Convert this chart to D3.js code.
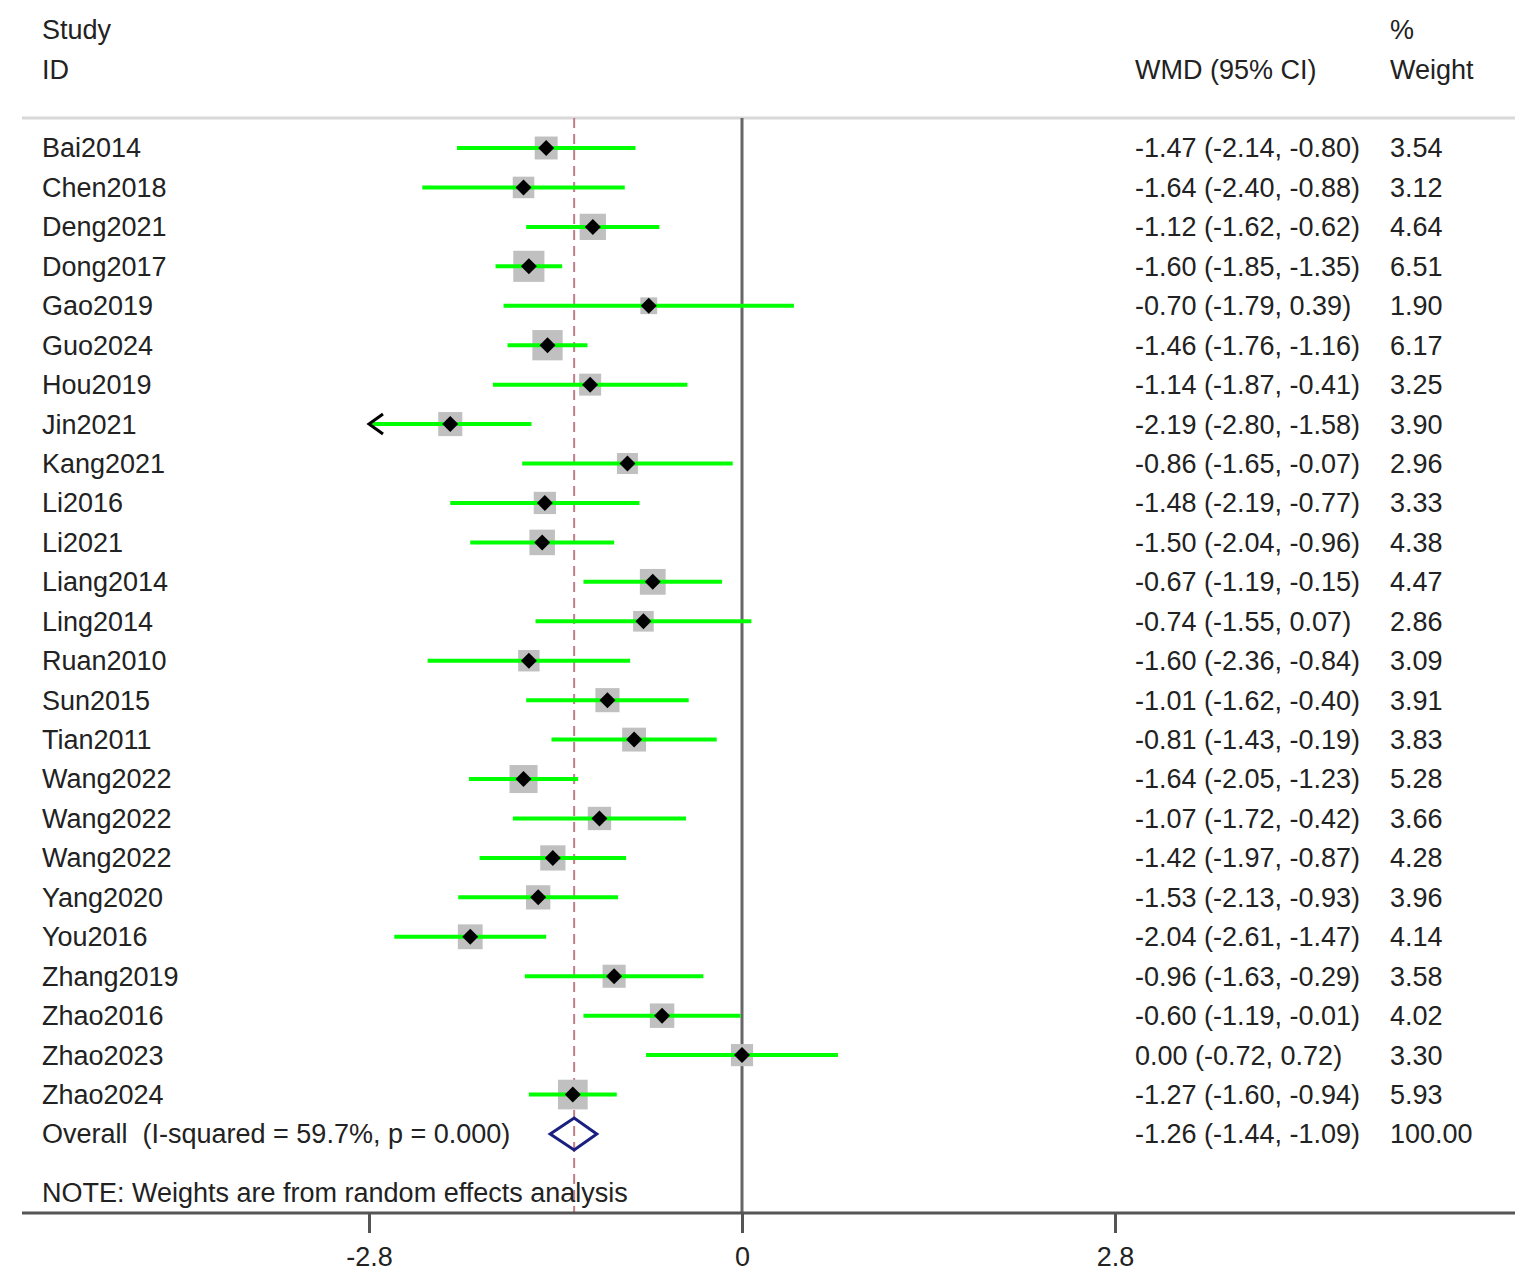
<!DOCTYPE html>
<meta charset="utf-8">
<title>Forest plot</title>
<script src="https://d3js.org/d3.v7.min.js"></script>
<style>
  body { margin: 0; background: #fff; }
  text { font-family: "Liberation Sans", Arial, sans-serif; fill: #222; }
</style>
<body>
<script>

// study data
const studies = ["Bai2014", "Chen2018", "Deng2021", "Dong2017", "Gao2019", "Guo2024", "Hou2019",
  "Jin2021", "Kang2021", "Li2016", "Li2021", "Liang2014", "Ling2014", "Ruan2010", "Sun2015",
  "Tian2011", "Wang2022", "Wang2022", "Wang2022", "Yang2020", "You2016", "Zhang2019",
  "Zhao2016", "Zhao2023", "Zhao2024"];
const wmd   = [-1.47, -1.64, -1.12, -1.60, -0.70, -1.46, -1.14, -2.19, -0.86, -1.48, -1.50, -0.67, -0.74,
  -1.60, -1.01, -0.81, -1.64, -1.07, -1.42, -1.53, -2.04, -0.96, -0.60, 0.00, -1.27];
const lower = [-2.14, -2.40, -1.62, -1.85, -1.79, -1.76, -1.87, -2.80, -1.65, -2.19, -2.04, -1.19, -1.55,
  -2.36, -1.62, -1.43, -2.05, -1.72, -1.97, -2.13, -2.61, -1.63, -1.19, -0.72, -1.60];
const upper = [-0.80, -0.88, -0.62, -1.35, 0.39, -1.16, -0.41, -1.58, -0.07, -0.77, -0.96, -0.15, 0.07,
  -0.84, -0.40, -0.19, -1.23, -0.42, -0.87, -0.93, -1.47, -0.29, -0.01, 0.72, -0.94];
const weight = [3.54, 3.12, 4.64, 6.51, 1.90, 6.17, 3.25, 3.90, 2.96, 3.33, 4.38, 4.47, 2.86,
  3.09, 3.91, 3.83, 5.28, 3.66, 4.28, 3.96, 4.14, 3.58, 4.02, 3.30, 5.93];

const overall = { label: "Overall  (I-squared = 59.7%, p = 0.000)", est: -1.26, lo: -1.44, hi: -1.09, w: 100 };

const tickValues = [-2.8, 0, 2.8];
const tickLabels = ["-2.8", "0", "2.8"];

const width = 1535, height = 1283;
const left = 22, right = 1515;
const topLine = 118, axisY = 1213;
const labelX = 42, ciX = 1135, wX = 1390;

const svg = d3.select("body").append("svg")
  .attr("width", width)
  .attr("height", height);

const x = d3.scaleLinear().domain([-2.8, 2.8]).range([369, 1115]);
const y = d3.scaleLinear().domain([0, studies.length]).range([148, 1134]);

const rows = studies.map((s, i) => ({ s, i, est: wmd[i], lo: lower[i], hi: upper[i], w: weight[i] }));
// plain hyphen minus, like the original
const fmt = v => v.toFixed(2);

// headers
svg.append("text").attr("x", labelX).attr("y", 30).attr("dy", "0.35em").attr("font-size", 27).text("Study");
svg.append("text").attr("x", labelX).attr("y", 70).attr("dy", "0.35em").attr("font-size", 27).text("ID");
svg.append("text").attr("x", ciX).attr("y", 70).attr("dy", "0.35em").attr("font-size", 27).text("WMD (95% CI)");
svg.append("text").attr("x", wX).attr("y", 30).attr("dy", "0.35em").attr("font-size", 27).text("%");
svg.append("text").attr("x", wX).attr("y", 70).attr("dy", "0.35em").attr("font-size", 27).text("Weight");

// top rule
svg.append("line")
  .attr("x1", left).attr("x2", right)
  .attr("y1", topLine).attr("y2", topLine)
  .attr("stroke", "#d8d8d8").attr("stroke-width", 3);

// no-effect line
svg.append("line")
  .attr("x1", x(0)).attr("x2", x(0))
  .attr("y1", topLine).attr("y2", axisY)
  .attr("stroke", "#666").attr("stroke-width", 3);

// overall estimate line
svg.append("line")
  .attr("x1", x(overall.est)).attr("x2", x(overall.est))
  .attr("y1", topLine).attr("y2", axisY)
  .attr("stroke", "#c07f86").attr("stroke-width", 2)
  .attr("stroke-dasharray", "10,6");

const g = svg.append("g");

// weight boxes
g.selectAll("rect.box")
  .data(rows)
  .join("rect")
  .attr("class", "box")
  .attr("x", d => x(d.est) - 6.1 * Math.sqrt(d.w))
  .attr("y", d => y(d.i) - 6.1 * Math.sqrt(d.w))
  .attr("width", d => 12.2 * Math.sqrt(d.w))
  .attr("height", d => 12.2 * Math.sqrt(d.w))
  .attr("fill", "#c0c0c0");

// CI lines
g.selectAll("line.ci")
  .data(rows)
  .join("line")
  .attr("class", "ci")
  .attr("x1", d => x(Math.max(d.lo, -2.8)))
  .attr("x2", d => x(Math.min(d.hi, 2.8)))
  .attr("y1", d => y(d.i)).attr("y2", d => y(d.i))
  .attr("stroke", "#00ff00").attr("stroke-width", 4);

// arrows where CI hits the axis limit
g.selectAll("path.arrow")
  .data(rows.filter(d => d.lo <= -2.8))
  .join("path")
  .attr("class", "arrow")
  .attr("d", d => {
    const ax = x(-2.8), ay = y(d.i);
    return `M${ax + 14},${ay - 10}L${ax},${ay}L${ax + 14},${ay + 10}`;
  })
  .attr("fill", "none").attr("stroke", "#000").attr("stroke-width", 3);

// point estimates
g.selectAll("path.pt")
  .data(rows)
  .join("path")
  .attr("class", "pt")
  .attr("d", d => {
    const cx = x(d.est), cy = y(d.i), r = 8;
    return `M${cx},${cy - r}L${cx + r},${cy}L${cx},${cy + r}L${cx - r},${cy}Z`;
  })
  .attr("fill", "#000");

// overall diamond
const oy = y(studies.length);
svg.append("path")
  .attr("d", `M${x(overall.lo)},${oy}L${x(overall.est)},${oy - 16}L${x(overall.hi)},${oy}L${x(overall.est)},${oy + 16}Z`)
  .attr("fill", "none").attr("stroke", "#1a1f80").attr("stroke-width", 3);

// text columns
const allRows = rows.concat([{ s: overall.label, i: studies.length, est: overall.est, lo: overall.lo, hi: overall.hi, w: overall.w }]);

svg.selectAll("text.lab")
  .data(allRows)
  .join("text")
  .attr("class", "lab")
  .attr("x", labelX).attr("y", d => y(d.i)).attr("dy", "0.35em")
  .attr("font-size", 27)
  .style("white-space", "pre")
  .text(d => d.s);

svg.selectAll("text.ci")
  .data(allRows)
  .join("text")
  .attr("class", "ci")
  .attr("x", ciX).attr("y", d => y(d.i)).attr("dy", "0.35em")
  .attr("font-size", 27)
  .text(d => `${fmt(d.est)} (${fmt(d.lo)}, ${fmt(d.hi)})`);

svg.selectAll("text.w")
  .data(allRows)
  .join("text")
  .attr("class", "w")
  .attr("x", wX).attr("y", d => y(d.i)).attr("dy", "0.35em")
  .attr("font-size", 27)
  .text(d => fmt(d.w));

// note
svg.append("text").attr("x", labelX).attr("y", 1193).attr("dy", "0.35em").attr("font-size", 27)
  .text("NOTE: Weights are from random effects analysis");

// x axis
svg.append("line")
  .attr("x1", left).attr("x2", right)
  .attr("y1", axisY).attr("y2", axisY)
  .attr("stroke", "#555").attr("stroke-width", 3);

const axis = svg.append("g")
  .attr("transform", `translate(0,${axisY})`)
  .call(d3.axisBottom(x).tickValues(tickValues).tickSize(20).tickPadding(14)
    .tickFormat((d, i) => tickLabels[i]));
axis.select(".domain").remove();
axis.selectAll(".tick line").attr("stroke", "#555").attr("stroke-width", 3);
axis.selectAll(".tick text")
  .attr("font-size", 27)
  .attr("font-family", "Liberation Sans, Arial, sans-serif")
  .attr("fill", "#222");

</script>
</body>
